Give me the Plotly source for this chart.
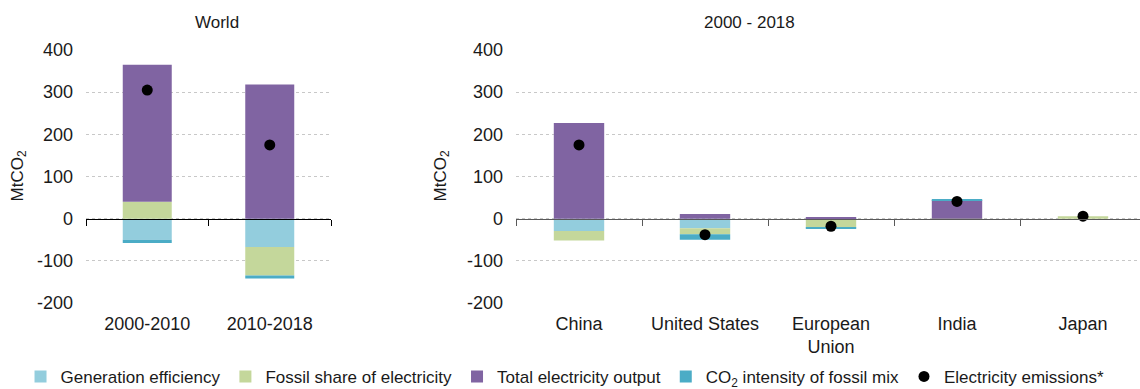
import plotly.graph_objects as go

# ---- data -------------------------------------------------------------
world_periods = ["2000-2010", "2010-2018"]
world_gen_efficiency = [-50, -67]
world_fossil_share = [40, -68]
world_total_output = [325, 318]
world_co2_intensity = [-8, -7]
world_emissions = [305, 175]

regions = ["China", "United States", "European<br>Union", "India", "Japan"]
reg_gen_efficiency = [-29, -23, -1, 0, 0]
reg_fossil_share = [-23, -14, -20, -3, 6]
reg_total_output = [227, 11, 4, 44, 0]
reg_co2_intensity = [0, -13, -2, 0.5, 0]
reg_emissions = [175, -38, -18, 41, 6]

y_ticks = [-200, -100, 0, 100, 200, 300, 400]
y_tick_labels = [str(v) for v in y_ticks]  # plain hyphen for negatives

series_names = [
    "Generation efficiency",
    "Fossil share of electricity",
    "Total electricity output",
    "CO<sub>2</sub> intensity of fossil mix",
]
series_colors = ["#93CDDD", "#C4D79B", "#8064A2", "#4BACC6"]
emission_name = "Electricity emissions*"

W, H = 1140, 389
FONT = "Liberation Sans, Arial, sans-serif"

fig = go.Figure()

world_series = [world_gen_efficiency, world_fossil_share, world_total_output, world_co2_intensity]
reg_series = [reg_gen_efficiency, reg_fossil_share, reg_total_output, reg_co2_intensity]

for name, color, wv, rv in zip(series_names, series_colors, world_series, reg_series):
    fig.add_trace(go.Bar(x=world_periods, y=wv, name=name, marker_color=color,
                         marker_line_width=0, legendgroup=name, showlegend=True,
                         xaxis="x", yaxis="y"))
    fig.add_trace(go.Bar(x=regions, y=rv, name=name, marker_color=color,
                         marker_line_width=0, legendgroup=name, showlegend=False,
                         xaxis="x2", yaxis="y2"))

fig.add_trace(go.Scatter(x=world_periods, y=world_emissions, mode="markers",
                         name=emission_name, marker=dict(color="black", size=11),
                         legendgroup="em", showlegend=True, xaxis="x", yaxis="y"))
fig.add_trace(go.Scatter(x=regions, y=reg_emissions, mode="markers",
                         name=emission_name, marker=dict(color="black", size=11),
                         legendgroup="em", showlegend=False, xaxis="x2", yaxis="y2"))

# helper traces carrying the categories for the zero-line axes
fig.add_trace(go.Scatter(x=world_periods, y=[0] * len(world_periods), mode="markers",
                         marker=dict(opacity=0), hoverinfo="skip", showlegend=False,
                         xaxis="x3", yaxis="y"))
fig.add_trace(go.Scatter(x=regions, y=[0] * len(regions), mode="markers",
                         marker=dict(opacity=0), hoverinfo="skip", showlegend=False,
                         xaxis="x4", yaxis="y2"))

left_dom = [86 / W, 331 / W]
right_dom = [516 / W, 1.0]
right_range = [-0.5, -0.5 + (W - 516) / 126]

yax = dict(range=[-200, 400], tickvals=y_ticks, ticktext=y_tick_labels, showgrid=True,
           gridcolor="#C8C8C8", griddash="dot", gridwidth=1, zeroline=False,
           showline=False, ticks="", ticklabelstandoff=12,
           tickfont=dict(size=18, color="#1a1a1a"), domain=[0, 1], fixedrange=True)

xax = dict(type="category", showgrid=False, showline=False, ticks="", zeroline=False,
           tickfont=dict(size=18, color="#1a1a1a"), ticklabelstandoff=8)

zero_ax = dict(type="category", anchor="free", position=1 / 3, showline=True,
               linewidth=1.2, ticks="outside", ticklen=6, tickwidth=1.2,
               tickson="boundaries", showticklabels=False, showgrid=False, zeroline=False)

fig.update_layout(
    width=W, height=H,
    margin=dict(l=0, r=0, t=50, b=86, autoexpand=False),
    paper_bgcolor="white", plot_bgcolor="white",
    font=dict(family=FONT, color="#1a1a1a"),
    barmode="relative", bargap=0.6,
    xaxis=dict(**xax, domain=left_dom, anchor="y", range=[-0.5, 1.5]),
    yaxis=dict(**yax, anchor="x"),
    xaxis2=dict(**xax, domain=right_dom, anchor="y2", range=right_range),
    yaxis2=dict(**yax, anchor="x2"),
    xaxis3=dict(**zero_ax, overlaying="x", range=[-0.5, 1.5], linecolor="#000000",
                tickcolor="#000000"),
    xaxis4=dict(**zero_ax, overlaying="x2", range=right_range, linecolor="#595959",
                tickcolor="#595959"),
    legend=dict(orientation="h", x=0.018, xanchor="left", y=-0.292, yanchor="middle",
                font=dict(size=17, color="#1a1a1a"), itemwidth=30,
                traceorder="normal", bgcolor="rgba(0,0,0,0)"),
    showlegend=True,
)

# panel titles
title_y = 1 + (50 - 23) / 253
fig.add_annotation(text="World", x=193 / W, y=title_y, xref="paper", yref="paper",
                   yanchor="middle", showarrow=False, font=dict(size=17))
fig.add_annotation(text="2000 - 2018", x=797 / W, y=title_y, xref="paper", yref="paper",
                   yanchor="middle", showarrow=False, font=dict(size=17))

# y-axis titles
for xpix in (18, 441):
    fig.add_annotation(text="MtCO<sub>2</sub>", x=xpix / W, y=0.5, xref="paper",
                       yref="paper", textangle=-90, showarrow=False,
                       font=dict(size=17), xanchor="center", yanchor="middle")

fig.write_html("out.html")
